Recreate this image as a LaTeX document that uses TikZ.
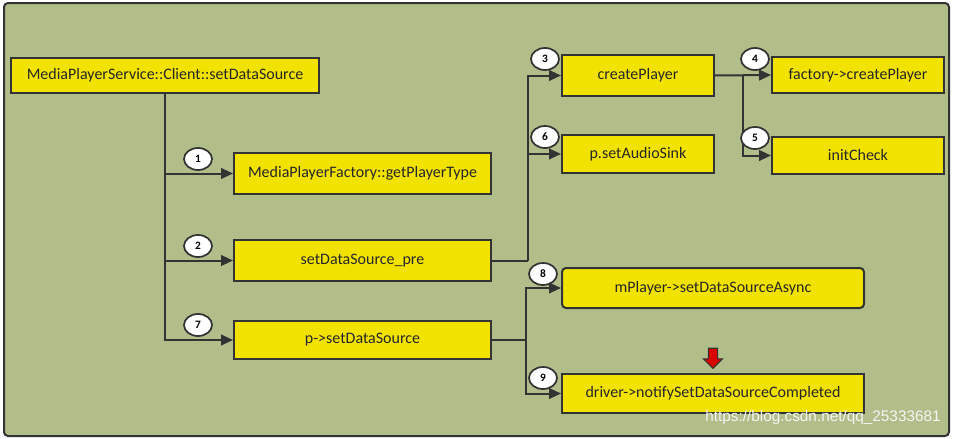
\documentclass[tikz,border=0pt]{standalone}
\usepackage{fontspec}
\setmainfont{Carlito}
\newfontfamily\markfont{Liberation Sans}
\usetikzlibrary{arrows.meta,shapes.geometric,shapes.arrows}
\definecolor{panelgreen}{RGB}{178,190,138}
\definecolor{boxyellow}{RGB}{242,226,0}
\definecolor{edgegray}{RGB}{51,51,51}
\begin{document}
\begin{tikzpicture}[x=0.75pt,y=-0.75pt,
	callbox/.style={draw=edgegray,fill=boxyellow,line width=1.5pt,font=\fontsize{12}{14}\selectfont,text=black!85,inner sep=0pt},
	stepnum/.style={ellipse,draw=edgegray,fill=white,line width=1.3pt,minimum width=21pt,minimum height=16.5pt,inner sep=0pt,font=\bfseries\fontsize{8.5}{9}\selectfont},
	conn/.style={draw=edgegray,line width=1.5pt,-{Triangle[length=9pt,width=8pt]}},
	wire/.style={draw=edgegray,line width=1.5pt}]
	\useasboundingbox (0,0) rectangle (953,439);
	\draw [draw=edgegray,fill=panelgreen,line width=1.5pt,rounded corners=3pt] (4,3) rectangle (949,436);

	% call boxes
	\node[callbox,minimum width=231pt,minimum height=26.25pt] (client) at (165,75.5) {MediaPlayerService::Client::setDataSource};
	\node[callbox,minimum width=192.75pt,minimum height=30.75pt] (gettype) at (362.5,173.5) {MediaPlayerFactory::getPlayerType};
	\node[callbox,minimum width=192.75pt,minimum height=30.75pt] (dspre) at (362.5,260.5) {setDataSource\_pre};
	\node[callbox,minimum width=192.75pt,minimum height=28.5pt] (psetds) at (362.5,340) {p->setDataSource};
	\node[callbox,minimum width=114pt,minimum height=30.75pt] (create) at (638,75.5) {createPlayer};
	\node[callbox,minimum width=114pt,minimum height=28.5pt] (sink) at (638,154) {p.setAudioSink};
	\node[callbox,minimum width=129pt,minimum height=27pt] (factory) at (858,75) {factory->createPlayer};
	\node[callbox,minimum width=129pt,minimum height=27.75pt] (initchk) at (858,155.5) {initCheck};
	\node[callbox,rounded corners=3pt,minimum width=226.5pt,minimum height=30pt] (async) at (713,288) {mPlayer->setDataSourceAsync};
	\node[callbox,minimum width=226.5pt,minimum height=29.25pt] (notify) at (713,393.5) {driver->notifySetDataSourceCompleted};

	% junctions
	\coordinate (jpre) at (528,260.5);
	\coordinate (jcreate) at (743,75.5);
	\coordinate (jset) at (526,340);

	\draw[conn] (client.south) |- (gettype.west);
	\draw[conn] (client.south) |- (dspre.west);
	\draw[conn] (client.south) |- (psetds.west);
	\draw[wire] (dspre.east) -- (jpre);
	\draw[conn] (jpre) |- (create.west);
	\draw[conn] (jpre) |- (sink.west);
	\draw[conn] (create.east) -- (factory.west);
	\draw[conn] (jcreate) |- (initchk.west);
	\draw[wire] (psetds.east) -- (jset);
	\draw[conn] (jset) |- (async.west);
	\draw[conn] (jset) |- (notify.west);

	% step numbers
	\node[stepnum] (n1) at (198,159) {1};
	\node[stepnum] (n2) at (198,246) {2};
	\node[stepnum] (n7) at (198,325) {7};
	\node[stepnum] (n3) at (545,59) {3};
	\node[stepnum] (n6) at (545,137) {6};
	\node[stepnum] (n4) at (755,59) {4};
	\node[stepnum] (n5) at (755,138) {5};
	\node[stepnum] (n8) at (543,274) {8};
	\node[stepnum] (n9) at (543,378) {9};

	\node[single arrow,draw=edgegray,fill=red!85!black,line width=0.8pt,shape border rotate=270,minimum height=15pt,minimum width=14pt,single arrow head extend=2pt,inner sep=1.5pt] (hint) at (713,356) {};

	\node[font=\markfont\fontsize{11.5}{13}\selectfont,text=white!92!gray] (wmark) at (823,418) {https://blog.csdn.net/qq\_25333681};
\end{tikzpicture}
\end{document}
